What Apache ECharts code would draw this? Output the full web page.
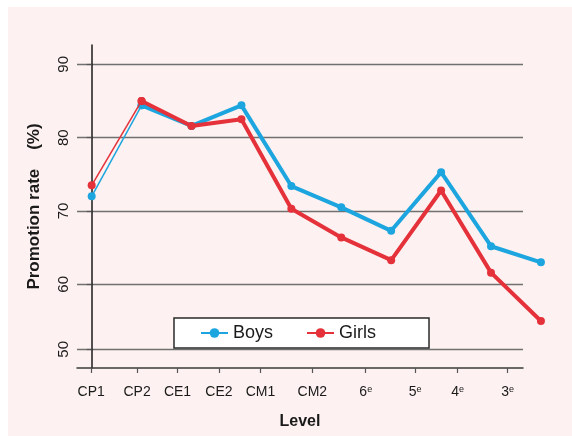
<!DOCTYPE html>
<html>
<head>
<meta charset="utf-8">
<script src="https://cdn.jsdelivr.net/npm/echarts@6/dist/echarts.min.js"></script>
<style>
  html, body { margin: 0; padding: 0; background: #fff; }
  #main { width: 572px; height: 436px; }
</style>
</head>
<body>
<div id="main"></div>
<script>
const myChart = echarts.init(document.querySelector('#main'))

// tick labels of the level axis and where they sit (in point units)
const levelLabels = ['CP1', 'CP2', 'CE1', 'CE2', 'CM1', 'CM2', '6e', '5e', '4e', '3e']
const levelTicks = [-0.01, 0.91, 1.72, 2.55, 3.38, 4.42, 5.49, 6.48, 7.33, 8.33]

// x position of each plotted point
const pointPos = [0, 1, 2, 3, 4, 5, 6, 7, 8, 9]

const boys = [72.0, 84.4, 81.6, 84.4, 73.4, 70.5, 67.3, 75.3, 65.2, 63.0]
const girls = [73.5, 85.0, 81.6, 82.5, 70.3, 66.4, 63.3, 72.8, 61.6, 55.0]

// y gridlines / labels (the bottom one is drawn a bit high in the source figure)
const yTicks = [51.15, 60, 70, 80, 90]
const yLabels = ['50', '60', '70', '80', '90']

const blue = '#1ca5de'
const red = '#e4313a'
const font = 'Liberation Sans, Arial, sans-serif'

// x range: the drawn axis stops before the last point, so the lines sit
// on a second (hidden) grid with the same scale but a wider extent
const xMin = -0.294
const xMaxAxis = 8.64
const xMaxData = 9.4

function pts(vals, from, to) {
  const out = []
  for (let i = from; i <= to; i++) out.push([pointPos[i], vals[i]])
  return out
}

function lineSeries(name, vals, color, from, to, width, z) {
  return {
    name: name,
    type: 'line',
    xAxisIndex: 1,
    yAxisIndex: 1,
    data: pts(vals, from, to),
    symbol: 'circle',
    symbolSize: 8,
    z: z,
    itemStyle: { color: color },
    lineStyle: { color: color, width: width },
    emphasis: { disabled: true }
  }
}

let option = {
  backgroundColor: '#fff',
  animation: false,
  graphic: [{
    type: 'rect',
    left: 8, top: 7,
    shape: { width: 564, height: 429 },
    style: { fill: '#fdf2f1' },
    z: -10
  }],
  grid: [
    { left: 77, right: 49, top: 45, bottom: 68 },
    { left: 77, right: 11.1, top: 45, bottom: 68 }
  ],
  legend: {
    data: ['Boys', 'Girls'],
    left: 174,
    top: 318,
    orient: 'horizontal',
    backgroundColor: '#fff',
    borderColor: '#2a2a2a',
    borderWidth: 1.5,
    borderRadius: 0,
    padding: [6, 53, 6, 26],
    itemGap: 33,
    itemWidth: 27,
    itemHeight: 12,
    textStyle: { fontFamily: font, fontSize: 18, color: '#1a1a1a' },
    z: 10
  },
  xAxis: [{
    type: 'value',
    gridIndex: 0,
    min: xMin,
    max: xMaxAxis,
    name: 'Level',
    nameLocation: 'middle',
    nameGap: 46,
    nameTextStyle: { fontFamily: font, fontSize: 16, fontWeight: 'bold', color: '#1a1a1a' },
    axisLine: { show: true, lineStyle: { color: '#3a3a3a', width: 1.5 } },
    axisTick: { show: true, length: 5, customValues: levelTicks, lineStyle: { color: '#555', width: 1.2 } },
    splitLine: { show: false },
    axisLabel: {
      customValues: levelTicks,
      margin: 17,
      fontFamily: font,
      fontSize: 14,
      color: '#1a1a1a',
      formatter: function (v) {
        const i = levelTicks.indexOf(v)
        const s = i >= 0 ? levelLabels[i] : ''
        if (/^\de$/.test(s)) return s[0] + '{sup|e}'
        return s
      },
      rich: {
        sup: { fontFamily: font, fontSize: 9, color: '#1a1a1a', verticalAlign: 'top', padding: [0, 0, 6, 0] }
      }
    }
  }, {
    type: 'value',
    gridIndex: 1,
    min: xMin,
    max: xMaxData,
    show: false
  }],
  yAxis: [{
    type: 'value',
    gridIndex: 0,
    min: 48.6,
    max: 92.63,
    name: 'Promotion rate    (%)',
    nameLocation: 'middle',
    nameRotate: 90,
    nameGap: 34,
    nameTextStyle: { fontFamily: font, fontSize: 17, fontWeight: 'bold', color: '#1a1a1a' },
    axisLine: { show: true, lineStyle: { color: '#1a1a1a', width: 1.5 } },
    axisTick: { show: true, length: 5, customValues: yTicks, lineStyle: { color: '#555', width: 1.2 } },
    splitLine: { show: true, lineStyle: { color: '#707070', width: 1.3 } },
    axisLabel: {
      customValues: yTicks,
      rotate: 90,
      margin: 6,
      fontFamily: font,
      fontSize: 15,
      color: '#1a1a1a',
      formatter: function (v) {
        const i = yTicks.indexOf(v)
        return i >= 0 ? yLabels[i] : ''
      }
    }
  }, {
    type: 'value',
    gridIndex: 1,
    min: 48.6,
    max: 92.63,
    show: false
  }],
  series: [
    lineSeries('Boys', boys, blue, 1, 9, 4, 3),
    lineSeries('Girls', girls, red, 1, 9, 4, 4),
    lineSeries('Boys', boys, blue, 0, 1, 1.5, 3),
    lineSeries('Girls', girls, red, 0, 1, 1.5, 4)
  ]
};
option && myChart.setOption(option);
</script>
</body>
</html>
